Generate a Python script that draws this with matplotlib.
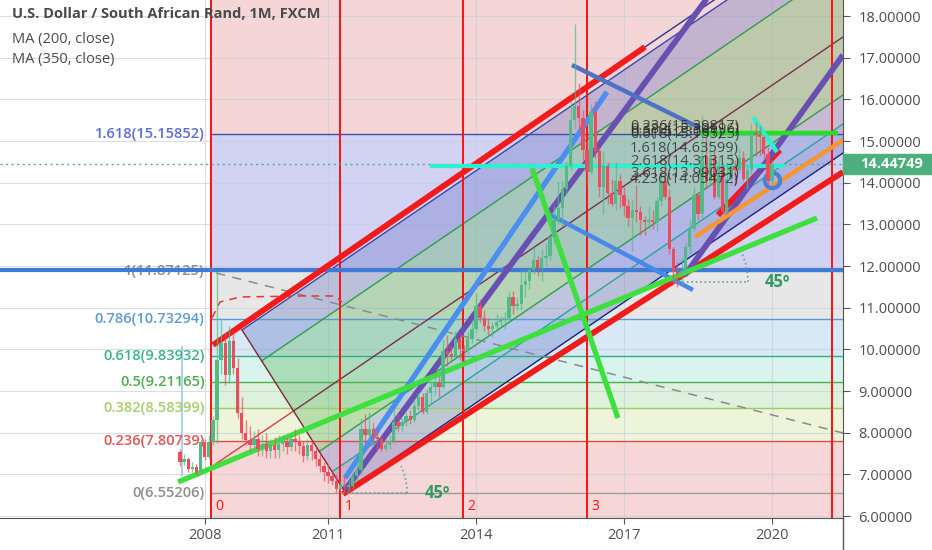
import numpy as np
import pandas as pd
import matplotlib
matplotlib.use("Agg")
import matplotlib.pyplot as plt
import matplotlib.transforms as mtransforms
from matplotlib.patches import Rectangle, Polygon
from matplotlib.lines import Line2D

plt.rcParams['font.family'] = ['Open Sans', 'DejaVu Sans']

# ---- monthly candles, Jan 2008 .. Jan 2020 ----
months = pd.date_range('2008-01-01', '2020-01-01', freq='MS')
first_open = 7.54
closes = [
    7.30, 7.36, 7.12, 7.18, 7.05, 7.78, 7.42, 7.78, 8.30, 9.75, 10.15, 9.38,
    10.20, 9.55, 8.47, 8.00, 7.82, 7.70, 7.85, 7.60, 7.72, 7.55, 7.70, 7.58,
    7.72, 7.80, 7.66, 7.85, 7.78, 7.68, 7.45, 7.70, 7.55, 7.38, 7.20, 7.05,
    6.95, 6.85, 6.65, 6.75, 6.70, 6.72, 6.95, 7.10, 8.10, 7.95, 8.10, 7.90,
    7.85, 7.62, 7.70, 7.80, 8.25, 8.15, 8.25, 8.40, 8.30, 8.65, 8.85, 8.50,
    8.95, 9.10, 9.20, 9.10, 9.95, 9.90, 9.85, 10.25, 10.00, 9.95, 10.25, 10.50,
    11.05, 10.75, 10.55, 10.50, 10.55, 10.65, 10.70, 10.75, 11.25, 11.05, 11.10, 11.55,
    11.65, 11.90, 12.15, 11.95, 12.20, 12.25, 12.70, 13.10, 13.40, 13.85, 14.40, 15.50,
    15.85, 15.55, 14.78, 14.25, 15.70, 14.75, 13.90, 14.40, 13.75, 13.50, 14.05, 13.70,
    13.45, 13.15, 13.35, 13.30, 13.10, 13.05, 13.10, 13.05, 13.55, 14.05, 13.65, 12.40,
    11.85, 11.80, 11.85, 12.45, 12.90, 13.70, 13.25, 14.65, 14.05, 14.60, 13.65, 14.40,
    13.30, 14.10, 14.40, 14.30, 14.60, 14.10, 14.30, 15.20, 15.15, 15.10, 14.70, 14.05,
    14.45,
]
highs = [
    7.60, 7.50, 7.42, 7.30, 7.25, 7.85, 7.85, 7.95, 8.40, 11.87, 10.70, 10.40,
    10.55, 10.45, 9.80, 8.85, 8.30, 8.15, 8.05, 8.10, 7.95, 8.00, 7.85, 7.90,
    7.95, 7.95, 7.90, 7.95, 8.10, 7.95, 7.80, 7.85, 7.80, 7.65, 7.50, 7.30,
    7.25, 7.10, 7.00, 6.85, 6.95, 6.90, 7.05, 7.35, 8.35, 8.45, 8.50, 8.25,
    8.10, 7.95, 7.85, 7.95, 8.55, 8.45, 8.35, 8.50, 8.55, 8.80, 8.95, 8.95,
    9.05, 9.25, 9.40, 9.35, 10.25, 10.35, 10.10, 10.45, 10.35, 10.10, 10.45, 10.70,
    11.35, 11.20, 10.95, 10.75, 10.65, 10.85, 10.80, 10.90, 11.40, 11.40, 11.25, 11.90,
    11.90, 11.95, 12.45, 12.25, 12.40, 12.55, 12.80, 13.45, 14.05, 14.05, 14.50, 15.95,
    17.80, 16.40, 15.75, 15.00, 15.90, 15.95, 14.85, 14.75, 14.50, 14.10, 14.50, 14.20,
    13.90, 13.60, 13.60, 13.95, 13.45, 13.20, 13.45, 13.35, 13.65, 14.20, 14.55, 13.85,
    12.45, 12.10, 12.20, 12.55, 13.10, 13.90, 13.75, 15.60, 15.10, 15.00, 14.75, 14.60,
    14.45, 14.45, 14.85, 14.55, 14.80, 14.75, 14.45, 15.40, 15.45, 15.35, 15.15, 14.85,
    14.55,
]
lows = [
    7.20, 7.22, 7.05, 7.05, 6.98, 7.00, 7.35, 7.38, 7.70, 7.75, 9.40, 9.15,
    9.20, 9.40, 8.35, 7.85, 7.70, 7.55, 7.55, 7.45, 7.45, 7.40, 7.40, 7.40,
    7.40, 7.55, 7.50, 7.55, 7.55, 7.50, 7.30, 7.35, 7.35, 7.20, 7.05, 6.85,
    6.80, 6.75, 6.55, 6.60, 6.58, 6.60, 6.65, 6.85, 7.00, 7.75, 7.80, 7.75,
    7.55, 7.55, 7.55, 7.60, 7.75, 8.05, 8.05, 8.15, 8.20, 8.25, 8.55, 8.45,
    8.45, 8.70, 8.90, 8.85, 9.05, 9.60, 9.70, 9.80, 9.75, 9.70, 9.90, 10.15,
    10.45, 10.65, 10.45, 10.35, 10.30, 10.45, 10.55, 10.50, 10.70, 10.85, 10.95, 10.95,
    11.25, 11.45, 11.80, 11.75, 11.65, 12.00, 12.15, 12.55, 13.00, 12.95, 13.70, 14.30,
    15.30, 15.30, 14.55, 13.95, 14.20, 14.60, 13.65, 13.25, 13.50, 13.45, 13.35, 13.40,
    13.20, 12.95, 12.35, 13.05, 12.75, 12.75, 12.90, 12.90, 12.85, 13.45, 13.60, 12.30,
    11.55, 11.50, 11.55, 11.80, 12.30, 12.85, 13.10, 13.15, 13.85, 13.95, 13.60, 13.60,
    13.25, 13.25, 13.95, 13.95, 14.25, 14.05, 13.85, 14.20, 14.65, 14.65, 14.60, 13.95,
    13.95,
]
last_price = 14.44749

# ---- fib retracement ----
fib_ratios = ['0', '0.236', '0.382', '0.5', '0.618', '0.786', '1', '1.618']
fib_prices = [6.55206, 7.80739, 8.58399, 9.21165, 9.83932, 10.73294, 11.87125, 15.15852]
fib_start = 2008.628

# ---- fib time zones ----
tz_x = [2008.628, 2011.243, 2013.737, 2016.250, 2021.217]
tz_labels = ['0', '1', '2', '3', '']

# ---- pitchfork anchors ----
pf_p1 = (2008.365, 6.961)
pf_p2 = (2009.257, 10.465)
pf_p3 = (2011.345, 6.577)
pf_levels = [-1, -0.618, 0, 0.5, 0.75, 1]

# ---- drawn trend lines (year, price) ----
red_upper = [(2008.669, 10.105), (2017.426, 17.256)]
red_upper_ext = [(2017.426, 17.256), (2018.946, 18.48)]
red_lower = [(2011.304, 6.529), (2021.44, 14.256)]
red_short = [(2018.905, 13.224), (2020.162, 14.784)]
purple_1 = [(2011.345, 6.625), (2018.81, 18.624)]
purple_2 = [(2018.236, 11.784), (2021.44, 17.064)]
blue_steep = [(2011.345, 6.913), (2016.655, 16.176)]
blue_desc_1 = [(2015.946, 16.824), (2018.541, 15.312)]
blue_desc_2 = [(2015.439, 13.272), (2018.399, 11.425)]
green_long = [(2007.96, 6.817), (2020.912, 13.152)]
green_steep = [(2015.135, 14.352), (2016.878, 8.353)]
green_flat = [(2018.541, 15.192), (2021.338, 15.192)]
cyan_flat = [(2013.068, 14.40), (2020.263, 14.40)]
cyan_diag = [(2019.615, 15.576), (2020.101, 14.736)]
orange_line = [(2018.439, 12.697), (2021.44, 15.024)]
gray_dashed = [(2008.73, 11.832), (2021.44, 7.993)]
red_dashed = [(2008.649, 10.753), (2008.811, 11.137), (2009.216, 11.257),
              (2010.432, 11.281), (2011.142, 11.281), (2011.284, 11.137)]
light_vline = [(2008.04, 10.06), (2008.04, 6.98)]
blue_ring = (2019.995, 14.07)
blue_hline = 11.91

angle_vertices = [(2011.304, 6.553), (2018.095, 11.617)]
angle_radius_px = [64, 70]
angle_label_pos = [(2013.21, 6.553), (2020.12, 11.617)]

cluster_labels = ['0.236(15.39817)', '0.382(15.30596)', '0.5(15.23061)', '0.618(15.15525)',
                  '1.618(14.63599)', '2.618(14.31315)', '3.618(13.99031)', '4.236(14.05472)']
cluster_y = [15.34, 15.27, 15.21, 15.15, 14.83, 14.50, 14.21, 14.07]
cluster_x = 2017.12

xtick_pos = [2008.5, 2011, 2014, 2017, 2020]
xtick_labels = ['2008', '2011', '2014', '2017', '2020']
yticks = list(range(6, 19))

XMIN, XMAX, YMIN, YMAX = 2004.351, 2021.44, 5.953, 18.384

fig = plt.figure(figsize=(9.32, 5.5), dpi=100)
ax = fig.add_axes([0, 32 / 550, 843 / 932, 518 / 550])
ax.set_xlim(XMIN, XMAX)
ax.set_ylim(YMIN, YMAX)
ax.set_autoscale_on(False)

# fib background bands
band_edges = [YMIN] + fib_prices + [YMAX]
band_colors = ['#f6d6d7', '#f6d6d7', '#eef4d9', '#ddf1dc', '#d9f3ed', '#d6e9f5',
               '#e7e7e7', '#d2d2f3', '#f5d6d7']
for lo, hi, col in zip(band_edges[:-1], band_edges[1:], band_colors):
    ax.fill_between([fib_start, XMAX], lo, hi, color=col, lw=0, zorder=0)

# grid
for yv in yticks:
    ax.axhline(yv, color='#c8d0dd', lw=0.8, alpha=0.7, zorder=0.5)
for xv in xtick_pos:
    ax.axvline(xv, color='#c8d0dd', lw=0.8, alpha=0.7, zorder=0.5)

# pitchfork
p1, p2, p3 = np.array(pf_p1), np.array(pf_p2), np.array(pf_p3)
mid = (p2 + p3) / 2
d = mid - p1
far = 12
pf_fill_colors = ['#5c6bc0', '#4caf50', '#4caf50', '#6f7fd0', '#5c6bc0']
pf_line_colors = ['#3949ab', '#2e9e4a', '#7a2e4e', '#2e9e4a', '#26a69a', '#1a237e']
def pf_point(f):
    return mid + f * (p3 - mid)
for fa, fb, col in zip(pf_levels[:-1], pf_levels[1:], pf_fill_colors):
    a, b = pf_point(fa), pf_point(fb)
    ax.add_patch(Polygon([a, b, b + far * d, a + far * d], closed=True,
                         fc=col, alpha=0.32, lw=0, zorder=1))
for f, col in zip(pf_levels, pf_line_colors):
    a = pf_point(f)
    ax.plot([a[0], a[0] + far * d[0]], [a[1], a[1] + far * d[1]], color=col, lw=1, zorder=2)
ax.plot([p1[0], mid[0]], [p1[1], mid[1]], color='#d84040', lw=1, zorder=2)
ax.plot([p2[0], p3[0]], [p2[1], p3[1]], color='#7b2a3a', lw=1, zorder=2)

# fib lines and labels
fib_line_colors = ['#9e9e9e', '#e04b4b', '#9ccc65', '#4caf50', '#2eae8a', '#5b9bd5', '#9e9e9e', '#3f4fb0']
fib_label_colors = ['#8c8c8c', '#e05555', '#a5cf6a', '#4cae4c', '#3bb38a', '#5b9bd5', '#8c8c8c', '#5b6bd5']
ax.hlines(fib_prices, fib_start, XMAX, colors=fib_line_colors, lw=1, zorder=1.5)
for r, p, col in zip(fib_ratios, fib_prices, fib_label_colors):
    ax.text(2008.5, p, f'{r}({p:.5f})', ha='right', va='center', fontsize=10.5,
            color=col, fontweight='semibold', zorder=2.6)

# time zones
for xv, lab in zip(tz_x, tz_labels):
    ax.axvline(xv, color='#ff1010', lw=1.4, zorder=2.2)
    ax.text(xv + 0.09, 6.24, lab, color='#ff1010', fontsize=10, va='center', ha='left', zorder=5)

# dashed / thin lines
ax.plot(*zip(*gray_dashed), color='#8a8a8a', lw=1.1, ls=(0, (6, 5)), zorder=2.5)
ax.plot(*zip(*red_dashed), color='#f03030', lw=1.1, ls=(0, (5, 4)), zorder=2.5)
ax.plot(*zip(*light_vline), color='#9ccbe0', lw=1.2, zorder=2.5)

# horizontal markers
ax.axhline(blue_hline, color='#3f7bd6', lw=3, zorder=3)
ax.axhline(last_price, color='#4caf7d', lw=1, ls=(0, (1.5, 2.5)), zorder=3)

# thick drawn lines
thick = [
    (red_upper, '#f21b1b', 4.2), (red_upper_ext, '#2a3590', 1.0), (red_lower, '#f21b1b', 4.2),
    (red_short, '#f21b1b', 4.2), (purple_1, '#6a4fb3', 4.2), (purple_2, '#6a4fb3', 4.2),
    (blue_steep, '#4a8ef0', 3.8), (blue_desc_1, '#4f73c4', 3.2), (blue_desc_2, '#4a88e8', 3.2),
    (green_long, '#3ee03e', 3.8), (green_steep, '#3ee03e', 3.8), (green_flat, '#22e022', 3.2),
    (cyan_flat, '#2ef0cf', 3.0), (cyan_diag, '#2ef0cf', 3.2), (orange_line, '#f7952f', 3.2),
]
for pts, col, lw in thick:
    ax.plot(*zip(*pts), color=col, lw=lw, solid_capstyle='butt', zorder=3)
ax.plot([blue_ring[0]], [blue_ring[1]], marker='o', ms=11, mfc='none', mec='#4a7fd4', mew=3, zorder=3)

# 45 degree markers
for (vx, vy), r_px, (lx, ly) in zip(angle_vertices, angle_radius_px, angle_label_pos):
    v = ax.transData.transform((vx, vy))
    t = np.radians(np.linspace(0, 25, 20))
    pts = np.column_stack([v[0] + r_px * np.cos(t), v[1] + r_px * np.sin(t)])
    arc = ax.transData.inverted().transform(pts)
    ax.plot([vx, arc[0, 0]], [vy, arc[0, 1]], color='#5aa6a0', lw=1.2, ls=':', zorder=3)
    ax.plot(arc[:, 0], arc[:, 1], color='#5aa6a0', lw=1.2, ls=':', zorder=3)
    ax.text(lx, ly, '45º', color='#2e9a62', fontsize=12, fontweight='bold',
            ha='center', va='center', zorder=5)

# candles
x = months.year + (months.month - 1) / 12.0
c = np.array(closes)
o = np.array([first_open] + closes[:-1])
h = np.array(highs)
l = np.array(lows)
up = c >= o
cols = np.where(up, '#53b987', '#eb4d5c')
ax.vlines(x, l, h, colors=cols, lw=1, alpha=0.7, zorder=4)
ax.bar(x, np.maximum(np.abs(c - o), 0.05), bottom=np.minimum(o, c), width=0.068,
       color=cols, lw=0, zorder=4.1)

# overlapping fib labels cluster
for lab, yv in zip(cluster_labels, cluster_y):
    ax.text(cluster_x, yv, lab, fontsize=10.5, color='#2b2b2b', alpha=0.8,
            ha='left', va='center', zorder=4.5)

# axes styling
for s in ['left', 'top']:
    ax.spines[s].set_visible(False)
for s in ['right', 'bottom']:
    ax.spines[s].set_color('#555555')
ax.yaxis.tick_right()
ax.set_yticks(yticks)
ax.set_yticklabels([f'{v:.5f}' for v in yticks])
ax.set_xticks(xtick_pos)
ax.set_xticklabels(xtick_labels)
ax.tick_params(axis='y', length=5, color='#555555', pad=6, labelsize=10.5, labelcolor='#4d4d4d')
ax.tick_params(axis='x', length=4, color='#555555', pad=3, labelsize=10.5, labelcolor='#4d4d4d')
fig.add_artist(Line2D([843 / 932, 843 / 932], [0, 32 / 550], color='#555555', lw=1))

# last price tag
trans = mtransforms.blended_transform_factory(ax.transAxes, ax.transData)
ax.add_patch(Rectangle((1.0, last_price - 0.25), 89 / 843, 0.5, transform=trans,
                       color='#4caf7d', clip_on=False, zorder=6))
ax.text(1.0 + 17 / 843, last_price, f'{last_price:.5f}', transform=trans, color='white',
        fontsize=10.5, fontweight='bold', va='center', ha='left', clip_on=False, zorder=7)

# legend texts
fig.text(12 / 932, 1 - 14 / 550, 'U.S. Dollar / South African Rand, 1M, FXCM', fontsize=10.5,
         fontweight='bold', color='#4a4a4a', va='center', ha='left')
fig.text(12 / 932, 1 - 39 / 550, 'MA (200, close)', fontsize=10.5, color='#4a4a4a', va='center', ha='left')
fig.text(12 / 932, 1 - 59 / 550, 'MA (350, close)', fontsize=10.5, color='#4a4a4a', va='center', ha='left')

fig.savefig('out.png', dpi=100)
